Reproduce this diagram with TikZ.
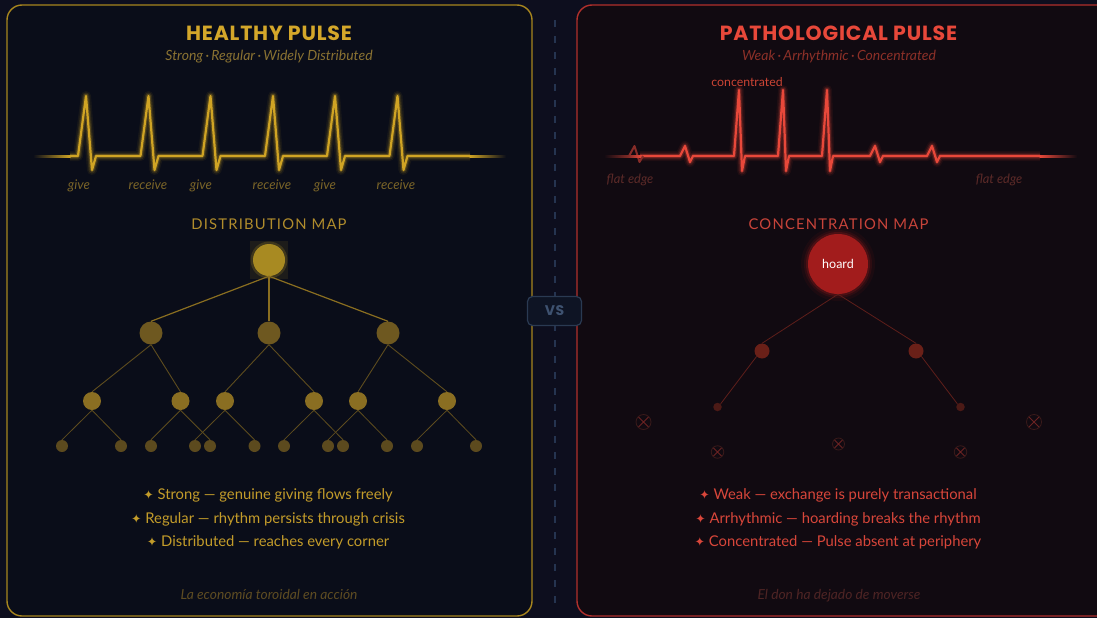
\documentclass[tikz,border=0pt]{standalone}
\usepackage{fontspec}
\setmainfont{Lato}
\newfontfamily\titlefont[LetterSpace=4]{Poppins}
\newfontfamily\mapfont[LetterSpace=8]{Lato}
\newfontfamily\symfont{DejaVu Sans}
\usetikzlibrary{shapes.misc}
\definecolor{bg}{HTML}{0D0E1E}
\definecolor{panelL}{HTML}{0A0D19}
\definecolor{borderL}{HTML}{A8861E}
\definecolor{panelR}{HTML}{110A11}
\definecolor{borderR}{HTML}{B0302C}
\definecolor{goldT}{HTML}{D4A72A}
\definecolor{goldS}{HTML}{8A7232}
\definecolor{goldP}{HTML}{D0A424}
\definecolor{goldL}{HTML}{7A6428}
\definecolor{goldM}{HTML}{B08C2C}
\definecolor{goldRoot}{HTML}{A88A22}
\definecolor{goldA}{HTML}{6E5820}
\definecolor{goldB}{HTML}{8A6E22}
\definecolor{goldC}{HTML}{5C4A1E}
\definecolor{goldE}{HTML}{8A6E20}
\definecolor{goldE2}{HTML}{5E4C1E}
\definecolor{goldBul}{HTML}{C39C2A}
\definecolor{goldF}{HTML}{5E4C22}
\definecolor{redT}{HTML}{E8483A}
\definecolor{redS}{HTML}{8C3028}
\definecolor{redP}{HTML}{E8483A}
\definecolor{redC}{HTML}{CC4434}
\definecolor{redFl}{HTML}{5C2A28}
\definecolor{redM}{HTML}{C8443A}
\definecolor{redHoard}{HTML}{A21C1C}
\definecolor{redGlow}{HTML}{D02020}
\definecolor{redA}{HTML}{6A2018}
\definecolor{redB}{HTML}{4C1A16}
\definecolor{redE}{HTML}{5E1E1A}
\definecolor{redX}{HTML}{6A2222}
\definecolor{redXc}{HTML}{3A1A1A}
\definecolor{redBul}{HTML}{D8463A}
\definecolor{redF}{HTML}{4E2424}
\definecolor{vsB}{HTML}{2A3A52}
\definecolor{vsT}{HTML}{3E5270}
\definecolor{vsF}{HTML}{0E1424}
\definecolor{dashC}{HTML}{253450}
\tikzset{
  dot/.style={circle, inner sep=0pt, minimum size=#1},
  xmark/.style={circle, inner sep=0pt, minimum size=#1, draw=redXc, line width=0.8pt,
    path picture={\draw[redX, line width=0.9pt]
      (path picture bounding box.south west) -- (path picture bounding box.north east)
      (path picture bounding box.north west) -- (path picture bounding box.south east);}},
  lbl/.style={inner sep=0pt, anchor=base},
  bul/.style={lbl, font=\fontsize{14.8}{14.8}\selectfont},
}
\newcommand{\sparkle}{{\symfont\fontsize{12.5}{12.5}\selectfont ✦}}
\begin{document}
\begin{tikzpicture}[x=1pt, y=-1pt]
\useasboundingbox (0,0) rectangle (1097,618);
\fill[bg] (0,0) rectangle (1097,618);
% panels
\draw[borderL, fill=panelL, line width=1.4pt, rounded corners=15pt] (7,5) rectangle (532,616);
\draw[borderR, fill=panelR, line width=1.4pt, rounded corners=15pt] (577,5) rectangle (1112,616);
% divider
\coordinate (dtop) at (555,20);
\coordinate (dbot) at (555,612);
\draw[dashC, line width=1.3pt, dash pattern=on 7pt off 9pt] (dtop) -- (dbot);
\node[draw=vsB, fill=vsF, line width=1.2pt, rounded corners=5pt, minimum width=54pt, minimum height=29pt, inner sep=0pt,
  font=\titlefont\bfseries\fontsize{14}{14}\selectfont, text=vsT] (vs) at (554.5,311) {VS};

% ===== LEFT =====
\node[lbl, text=goldT, font=\titlefont\bfseries\fontsize{20.5}{20.5}\selectfont] (tl) at (269,41) {HEALTHY PULSE};
\node[lbl, text=goldS, font=\itshape\fontsize{14}{14}\selectfont] (sl) at (269,61) {Strong\,·\,Regular\,·\,Widely Distributed};
% pulse glow + line
\foreach \w/\o in {10/0.07,7/0.13,4.5/0.25}{
\draw[goldP, line width=\w pt, opacity=\o, line join=round] (70,156)
  foreach \s in {86,148.5,210.5,273,335,397.5} { -- ({\s-8},156) -- (\s,96) -- ({\s+6},170) -- ({\s+10},156) } -- (470,156);
}
\draw[goldP, line width=2.2pt, line join=round] (70,156)
  foreach \s in {86,148.5,210.5,273,335,397.5} { -- ({\s-8},156) -- (\s,96) -- ({\s+6},170) -- ({\s+10},156) } -- (470,156);
\shade[left color=panelL, right color=goldP] (33,155) rectangle (70.5,157.2);
\shade[left color=goldP, right color=panelL] (469.5,155) rectangle (506,157.2);
\foreach \x/\t [count=\i] in {79/give,148/receive,201/give,272/receive,325/give,396/receive}{
  \node[lbl, text=goldL, font=\itshape\fontsize{13.3}{13.3}\selectfont] (gl\i) at (\x,189.5) {\t};
}
\node[lbl, text=goldM, font=\mapfont\fontsize{14.8}{14.8}\selectfont] (ml) at (269,229.5) {DISTRIBUTION MAP};
% tree
\fill[goldRoot, opacity=0.12] (250,241) rectangle (288,279);
\fill[goldRoot, opacity=0.25] (269,260) circle (18.5);
\node[dot=32pt, fill=goldRoot] (r) at (269,260) {};
\foreach \x [count=\i] in {151,269,388}{ \node[dot=23pt, fill=goldA] (a\i) at (\x,333) {}; }
\foreach \x [count=\i] in {92,180.5,225,314,358,447}{ \node[dot=18pt, fill=goldB] (b\i) at (\x,401) {}; }
\foreach \x [count=\i] in {62,121,151,195,210,254.5,284,328,343,387,417,476}{ \node[dot=12pt, fill=goldC] (c\i) at (\x,446) {}; }
\foreach \i in {1,2,3}{ \draw[goldE, line width=1.2pt] (r.south) -- (a\i.north); }
\foreach \p/\c in {1/1,1/2,2/3,2/4,3/5,3/6}{ \draw[goldE2, line width=0.9pt] (a\p.south) -- (b\c.north); }
\foreach \p/\c in {1/1,1/2,2/3,2/5,3/4,3/6,4/7,4/9,5/8,5/10,6/11,6/12}{ \draw[goldE2, line width=0.8pt] (b\p.south) -- (c\c.north); }
% bullets
\node[bul, text=goldBul] (bl1) at (268,499.5) {\sparkle\ Strong — genuine giving flows freely};
\node[bul, text=goldBul] (bl2) at (268,523.5) {\sparkle\ Regular — rhythm persists through crisis};
\node[bul, text=goldBul] (bl3) at (268,546.5) {\sparkle\ Distributed — reaches every corner};
\node[lbl, text=goldF, font=\itshape\fontsize{13.8}{13.8}\selectfont] (fl) at (269,599.5) {La economía toroidal en acción};

% ===== RIGHT =====
\node[lbl, text=redT, font=\titlefont\bfseries\fontsize{20.5}{20.5}\selectfont] (tr) at (838.5,41) {PATHOLOGICAL PULSE};
\node[lbl, text=redS, font=\itshape\fontsize{14}{14}\selectfont] (sr) at (839,61) {Weak\,·\,Arrhythmic\,·\,Concentrated};
\foreach \w/\o in {10/0.07,7/0.13,4.5/0.25}{
\draw[redP, line width=\w pt, opacity=\o, line join=round] (640,156)
  -- (680,156) -- (685,146) -- (690,162) -- (693,156)
  foreach \s in {739,783,827} { -- ({\s-5},156) -- (\s,90) -- ({\s+3},171) -- ({\s+6},156) }
  -- (870,156) -- (875,146) -- (880,162) -- (883,156)
  -- (927,156) -- (932,146) -- (937,162) -- (940,156) -- (1040,156);
}
\draw[redP, line width=2.2pt, line join=round] (640,156)
  -- (680,156) -- (685,146) -- (690,162) -- (693,156)
  foreach \s in {739,783,827} { -- ({\s-5},156) -- (\s,90) -- ({\s+3},171) -- ({\s+6},156) }
  -- (870,156) -- (875,146) -- (880,162) -- (883,156)
  -- (927,156) -- (932,146) -- (937,162) -- (940,156) -- (1040,156);
\draw[redP!55!panelR, line width=2pt, line join=round] (629,156) -- (634.5,146) -- (639.5,162) -- (643,156);
\shade[left color=panelR, right color=redP!55!panelR] (604,155) rectangle (629.5,157.2);
\shade[left color=redP!55!panelR, right color=redP] (629,155) rectangle (641,157.2);
\shade[left color=redP, right color=panelR] (1039.5,155) rectangle (1077,157.2);
\node[lbl, text=redC, font=\fontsize{12.3}{12.3}\selectfont] (conc) at (747,86.5) {concentrated};
\node[lbl, text=redFl, font=\itshape\fontsize{12.9}{12.9}\selectfont] (fe1) at (630,183) {flat edge};
\node[lbl, text=redFl, font=\itshape\fontsize{12.9}{12.9}\selectfont] (fe2) at (999,183) {flat edge};
\node[lbl, text=redM, font=\mapfont\fontsize{14.8}{14.8}\selectfont] (mr) at (838.5,229.5) {CONCENTRATION MAP};
% hoard tree
\foreach \rr/\o in {37/0.06,34/0.1,32/0.18}{ \fill[redGlow, opacity=\o] (838,264) circle (\rr); }
\node[dot=60pt, fill=redHoard, text=white, font=\fontsize{12.5}{12.5}\selectfont] (h) at (838,264) {hoard};
\node[dot=15pt, fill=redA] (h1) at (762,351) {};
\node[dot=15pt, fill=redA] (h2) at (916,351) {};
\node[dot=8.5pt, fill=redB] (h3) at (717.5,407) {};
\node[dot=8.5pt, fill=redB] (h4) at (960.5,407) {};
\draw[redE, line width=0.8pt] (h.south) -- (h1.north);
\draw[redE, line width=0.8pt] (h.south) -- (h2.north);
\draw[redE, line width=0.8pt] (h1.south west) -- (h3.north east);
\draw[redE, line width=0.8pt] (h2.south east) -- (h4.north west);
\node[xmark=15pt] (x1) at (643.5,422) {};
\node[xmark=15pt] (x2) at (1034,422) {};
\node[xmark=12.5pt] (x3) at (717.5,452) {};
\node[xmark=12pt] (x4) at (838.5,444) {};
\node[xmark=12.5pt] (x5) at (960.5,452) {};
% bullets
\node[bul, text=redBul] (br1) at (838,499.5) {\sparkle\ Weak — exchange is purely transactional};
\node[bul, text=redBul] (br2) at (838,523.5) {\sparkle\ Arrhythmic — hoarding breaks the rhythm};
\node[bul, text=redBul] (br3) at (838,546.5) {\sparkle\ Concentrated — Pulse absent at periphery};
\node[lbl, text=redF, font=\itshape\fontsize{13.8}{13.8}\selectfont] (fr) at (839,599.5) {El don ha dejado de moverse};
\end{tikzpicture}
\end{document}
